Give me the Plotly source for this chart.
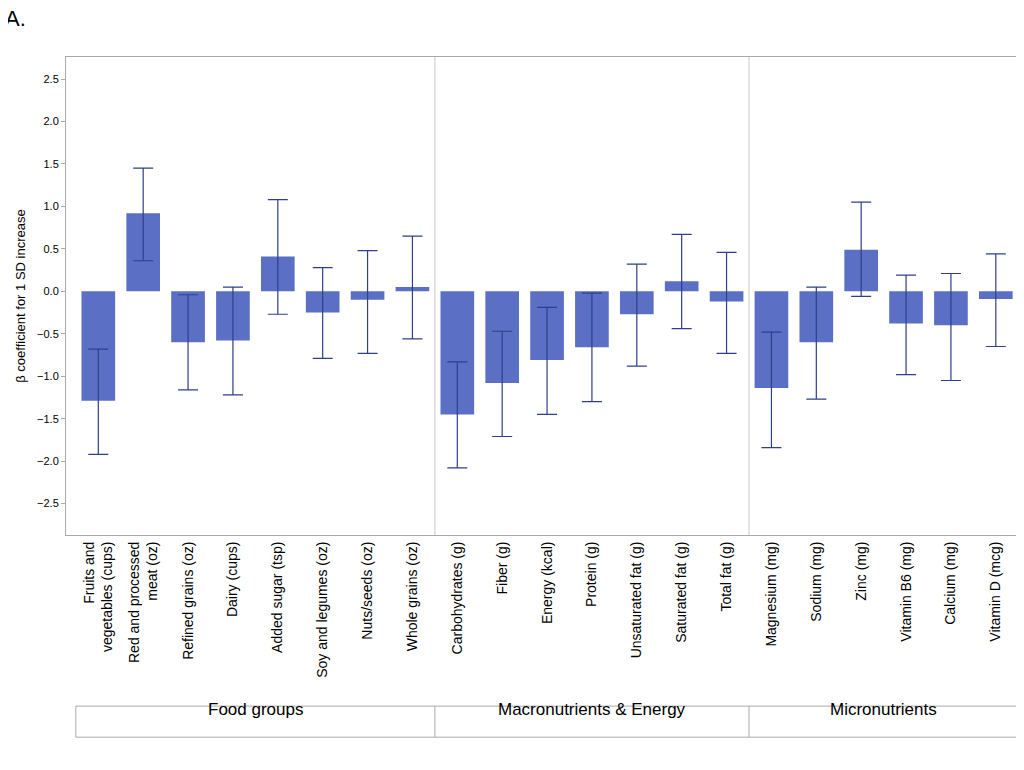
import plotly.graph_objects as go

cats = ["Fruits and<br>vegetables (cups)", "Red and processed<br>meat (oz)", "Refined grains (oz)",
        "Dairy (cups)", "Added sugar (tsp)", "Soy and legumes (oz)", "Nuts/seeds (oz)",
        "Whole grains (oz)", "Carbohydrates (g)", "Fiber (g)", "Energy (kcal)", "Protein (g)",
        "Unsaturated fat (g)", "Saturated fat (g)", "Total fat (g)", "Magnesium (mg)",
        "Sodium (mg)", "Zinc (mg)", "Vitamin B6 (mg)", "Calcium (mg)", "Vitamin D (mcg)"]
beta = [-1.29, 0.92, -0.60, -0.58, 0.41, -0.25, -0.10, 0.05, -1.45, -1.08, -0.81, -0.66,
        -0.27, 0.12, -0.12, -1.14, -0.60, 0.49, -0.38, -0.40, -0.09]
upper = [-0.68, 1.45, -0.04, 0.05, 1.08, 0.28, 0.48, 0.65, -0.83, -0.47, -0.19, -0.02,
         0.32, 0.67, 0.46, -0.48, 0.05, 1.05, 0.19, 0.21, 0.44]
lower = [-1.92, 0.36, -1.16, -1.22, -0.27, -0.79, -0.73, -0.56, -2.08, -1.71, -1.45, -1.30,
         -0.88, -0.44, -0.73, -1.84, -1.27, -0.06, -0.98, -1.05, -0.65]
groups = ["Food groups", "Macronutrients & Energy", "Micronutrients"]
group_bounds = [(-0.5, 7.5), (7.5, 14.5), (14.5, 20.5)]

x = list(range(len(cats)))
fig = go.Figure(go.Bar(
    x=x, y=beta, width=0.75, marker=dict(color="#5b6fc5", line=dict(width=0)),
    error_y=dict(type="data", symmetric=False,
                 array=[u - b for u, b in zip(upper, beta)],
                 arrayminus=[b - l for b, l in zip(beta, lower)],
                 color="#2f3f8a", thickness=1.2, width=10),
))

shapes = []
for b in [7.5, 14.5]:
    shapes.append(dict(type="line", xref="x", yref="paper", x0=b, x1=b, y0=0, y1=1,
                       line=dict(color="#c8c8c8", width=1)))
# group box under tick labels
for (a, b), g in zip(group_bounds, groups):
    shapes.append(dict(type="line", xref="x", yref="paper", x0=a, x1=a, y0=-0.358, y1=-0.423,
                       line=dict(color="#aaa", width=1)))
    fig.add_annotation(x=(a + b) / 2, xref="x", y=-0.39, yref="paper", text=g,
                       showarrow=False, font=dict(size=17, color="black"))
shapes.append(dict(type="line", xref="x", yref="paper", x0=20.5, x1=20.5, y0=-0.358, y1=-0.423,
                   line=dict(color="#aaa", width=1)))
shapes.append(dict(type="line", xref="x", yref="paper", x0=-0.5, x1=20.5, y0=-0.423, y1=-0.423,
                   line=dict(color="#aaa", width=1)))
shapes.append(dict(type="line", xref="x", yref="paper", x0=-0.5, x1=20.5, y0=-0.358, y1=-0.358,
                   line=dict(color="#aaa", width=1)))

fig.add_annotation(x=-0.066, xref="paper", y=1.11, yref="paper", text="A.", showarrow=False,
                   font=dict(size=22, color="black"), xanchor="left")

fig.update_layout(
    width=1008, height=755, plot_bgcolor="white", paper_bgcolor="white",
    margin=dict(l=58, r=0, t=49, b=228, autoexpand=False), showlegend=False, shapes=shapes,
    font=dict(family="Liberation Sans, Arial", color="black"),
    xaxis=dict(range=[-0.72, 20.45], tickmode="array", tickvals=x, ticktext=cats,
               tickangle=-90, tickfont=dict(size=14), showline=True, linecolor="#aaa",
               mirror=True, ticks="", showgrid=False, zeroline=False, automargin=False),
    yaxis=dict(range=[-2.87, 2.76], dtick=0.5, tickformat=".1f", tickfont=dict(size=11),
               title=dict(text="β coefficient for 1 SD increase", font=dict(size=13), standoff=8),
               showline=True, linecolor="#aaa", mirror=True, ticks="outside", ticklen=4,
               tickcolor="#aaa", showgrid=False, zeroline=False, automargin=False),
)
fig.write_html("out.html")
